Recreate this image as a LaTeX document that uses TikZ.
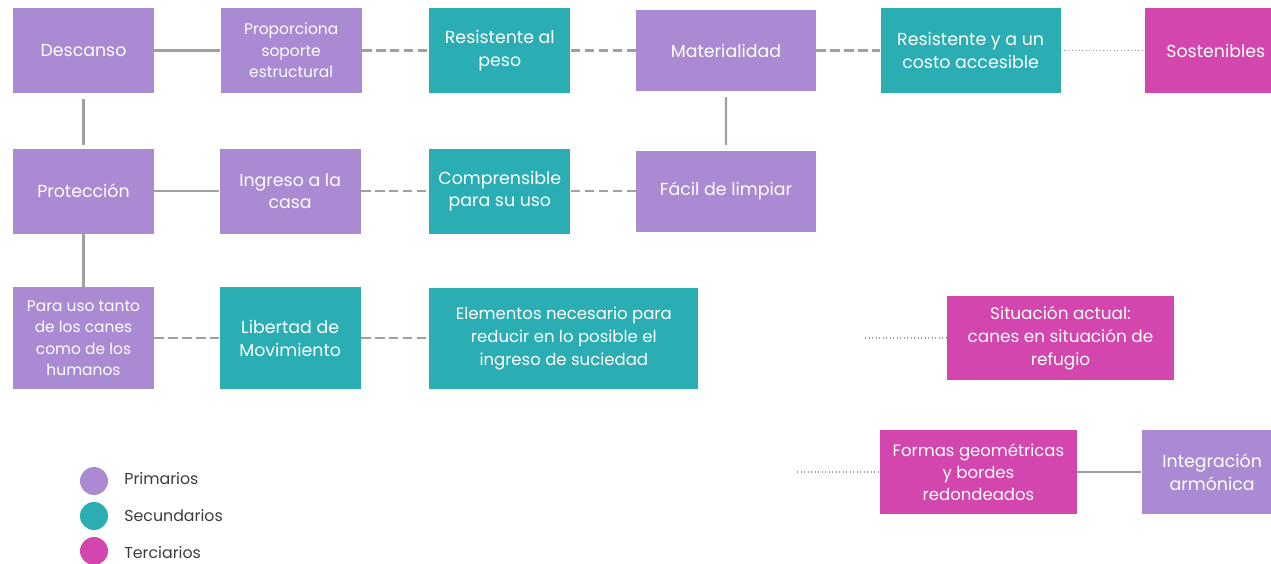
\documentclass[tikz,border=0pt]{standalone}
\usepackage{fontspec}
\setmainfont{Poppins}
\usetikzlibrary{positioning}
\definecolor{primario}{HTML}{A98AD3}
\definecolor{secundario}{HTML}{2AADB3}
\definecolor{terciario}{HTML}{D346AE}
\definecolor{enlace}{HTML}{A0A0A0}
\definecolor{leyenda}{HTML}{3C3C3C}

\begin{document}
\begin{tikzpicture}[
			x=0.02cm, y=-0.02cm,
			node distance=1.3cm,
			box/.style={rectangle, minimum width=2.82cm, minimum height=1.7cm, align=center, text=white, inner sep=2pt, font=\fontsize{9.9}{13}\selectfont},
			small/.style={font=\fontsize{8.8}{12.2}\selectfont},
			prim/.style={box, fill=primario},
			sec/.style={box, fill=secundario},
			ter/.style={box, fill=terciario},
			wide/.style={minimum width=3.6cm},
			link/.style={draw=enlace, line width=1.3pt},
			dashlink/.style={link, dash pattern=on 0.19cm off 0.09cm},
			dotlink/.style={draw=enlace, line width=1pt, dash pattern=on 0.6pt off 1.4pt},
			dot/.style={circle, minimum size=0.56cm, inner sep=0pt},
			legtext/.style={anchor=west, text=leyenda, inner sep=0pt, font=\fontsize{9}{12}\selectfont}
			]
			\useasboundingbox (0,0) rectangle (1271,564);
			
			% Row 1
			\node (descanso) [prim] at (83.5,50.5) {Descanso};
			\node (soporte) [prim, small, right=1.32cm of descanso] {Proporciona\\soporte\\estructural};
			\node (peso) [sec, right=1.34cm of soporte] {Resistente al\\peso};
			\node (materialidad) [prim, wide, minimum height=1.64cm, right=1.3cm of peso] {Materialidad};
			\node (costo) [sec, wide, right=1.28cm of materialidad] {Resistente y a un\\costo accesible};
			\node (sostenibles) [ter, right=1.68cm of costo] {Sostenibles};
			
			% Row 2
			\node (proteccion) [prim, below=1.1cm of descanso] {Protección};
			\node (ingreso) [prim, right=1.3cm of proteccion] {Ingreso a la\\casa};
			\node (comprensible) [sec, right=1.36cm of ingreso] {Comprensible\\para su uso};
			\node (limpiar) [prim, wide, minimum height=1.62cm, right=1.3cm of comprensible] {Fácil de limpiar};
			
			% Row 3
			\node (usos) [prim, small, minimum height=2.04cm, below=1.06cm of proteccion] {Para uso tanto\\de los canes\\como de los\\humanos};
			\node (libertad) [sec, minimum height=2.04cm, right=1.3cm of usos] {Libertad de\\Movimiento};
			\node (elementos) [sec, font=\fontsize{9.4}{13}\selectfont, minimum width=5.38cm, minimum height=2.02cm, right=1.36cm of libertad] {Elementos necesario para\\reducir en lo posible el\\ingreso de suciedad};
			
			% Right side
			\node (situacion) [ter, font=\fontsize{9.6}{13}\selectfont, minimum width=4.54cm, minimum height=1.68cm] at (1060.5,338) {Situación actual:\\canes en situación de\\refugio};
			\node (formas) [ter, font=\fontsize{9.4}{12.6}\selectfont, minimum width=3.94cm, minimum height=1.68cm] at (978.5,472) {Formas geométricas\\y bordes\\redondeados};
			\node (integracion) [prim, minimum height=1.68cm, right=1.28cm of formas] {Integración\\armónica};
			\coordinate (sitfin) at (865,338);
			\coordinate (formfin) at (797,472);
			
			% Legend
			\node (leyprim) [dot, fill=primario] at (94,481) {};
			\node (leysec) [dot, fill=secundario] at (94,516) {};
			\node (leyter) [dot, fill=terciario] at (94,551) {};
			\node [legtext] at (124,479) {Primarios};
			\node [legtext] at (124,516) {Secundarios};
			\node [legtext] at (124,553) {Terciarios};
			
			% Solid links
			\draw [link] (descanso) -- (soporte);
			\draw [link, shorten <=3pt, shorten >=2pt] (descanso) -- (proteccion);
			\draw [link] (proteccion) -- (ingreso);
			\draw [link] (proteccion) -- (usos);
			\draw [link, shorten <=3pt, shorten >=3pt] (materialidad) -- (limpiar);
			\draw [link] (formas) -- (integracion);
			
			% Dashed links
			\draw [dashlink] (soporte) -- (peso);
			\draw [dashlink] (peso) -- (materialidad);
			\draw [dashlink] (materialidad) -- (costo);
			\draw [dashlink] (ingreso) -- (comprensible);
			\draw [dashlink] (comprensible) -- (limpiar);
			\draw [dashlink] (usos) -- (libertad);
			\draw [dashlink] (libertad) -- (elementos);
			
			% Dotted links
			\draw [dotlink] (costo) -- (sostenibles);
			\draw [dotlink] (sitfin) -- (situacion);
			\draw [dotlink] (formfin) -- (formas);
		\end{tikzpicture}
\end{document}
